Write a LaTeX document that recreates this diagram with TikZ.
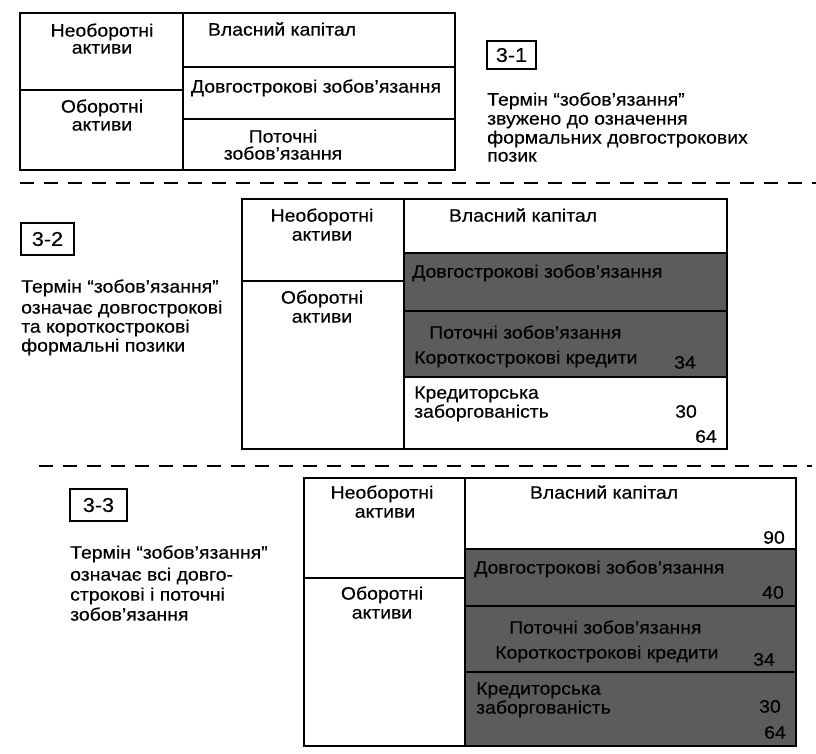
\documentclass[tikz,border=0pt]{standalone}
\usepackage{fontspec}
\setmainfont{Liberation Sans}[FakeStretch=1.08,FakeBold=0.35]
\definecolor{darkfill}{RGB}{92,92,92}
\begin{document}
\begin{tikzpicture}[x=1pt,y=-1pt,
  cell/.style={draw, line width=1.8pt, inner sep=0pt, outer sep=0pt, anchor=north west},
  dark/.style={fill=darkfill},
  txt/.style={inner sep=0pt, yshift=-3pt, font=\fontsize{18}{20}\selectfont},
  lbl/.style={txt, anchor=mid west},
  ctr/.style={txt, anchor=mid},
  para/.style={txt, anchor=mid west},
  tagbox/.style={draw, line width=1.4pt, inner sep=0pt, font=\fontsize{20}{20}\selectfont},
  sepline/.style={line width=2.4pt, dash pattern=on 14pt off 10pt}
]
\useasboundingbox (0,0) rectangle (816,754);

% ---------------- Panel 1 ----------------
\node[cell, minimum width=163, minimum height=77] (p1na) at (20,13) {};
\node[cell, minimum width=163, minimum height=80] (p1oa) at (20,90) {};
\node[cell, minimum width=272, minimum height=54] (p1vk) at (183,13) {};
\node[cell, minimum width=272, minimum height=52] (p1dz) at (183,67) {};
\node[cell, minimum width=272, minimum height=51] (p1pz) at (183,119) {};
\node[ctr] (p1t1) at (102,31) {Необоротні};
\node[ctr] (p1t2) at (102,48) {активи};
\node[ctr] (p1t3) at (102,107) {Оборотні};
\node[ctr] (p1t4) at (102,125) {активи};
\node[ctr] (p1t5) at (282,30) {Власний капітал};
\node[ctr] (p1t6) at (316,87) {Довгострокові зобов’язання};
\node[ctr] (p1t7) at (283,137) {Поточні};
\node[ctr] (p1t8) at (283,154) {зобов’язання};
\node[tagbox, minimum width=49, minimum height=28] (tag1) at (511.5,55) {3-1};
\node[para] (p1p1) at (487,100) {Термін “зобов’язання”};
\node[para] (p1p2) at (487,119) {звужено до означення};
\node[para] (p1p3) at (487,138) {формальних довгострокових};
\node[para] (p1p4) at (487,156) {позик};

\coordinate (s1a) at (20,183);
\coordinate (s1b) at (816,183);
\draw[sepline] (s1a) -- (s1b);

% ---------------- Panel 2 ----------------
\node[cell, minimum width=162, minimum height=82] (p2na) at (242,199) {};
\node[cell, minimum width=162, minimum height=168] (p2oa) at (242,281) {};
\node[cell, minimum width=323, minimum height=54] (p2vk) at (404,199) {};
\node[cell, dark, minimum width=323, minimum height=58] (p2dz) at (404,253) {};
\node[cell, dark, minimum width=323, minimum height=66] (p2pz) at (404,311) {};
\node[cell, minimum width=323, minimum height=72] (p2kz) at (404,377) {};
\node[ctr] (p2t1) at (322,216) {Необоротні};
\node[ctr] (p2t2) at (322,235) {активи};
\node[ctr] (p2t3) at (322,298) {Оборотні};
\node[ctr] (p2t4) at (322,317) {активи};
\node[ctr] (p2t5) at (523,216) {Власний капітал};
\node[lbl] (p2t6) at (412,272) {Довгострокові зобов’язання};
\node[lbl] (p2t7) at (429,333) {Поточні зобов’язання};
\node[lbl] (p2t8) at (414,358) {Короткострокові кредити};
\node[ctr] (p2n1) at (685,363) {34};
\node[lbl] (p2t9) at (414,393) {Кредиторська};
\node[lbl] (p2t10) at (414,412) {заборгованість};
\node[ctr] (p2n2) at (686,412) {30};
\node[ctr] (p2n3) at (706,437) {64};
\node[tagbox, minimum width=53, minimum height=32] (tag2) at (47.5,239) {3-2};
\node[lbl] (p2p1) at (21,287) {Термін “зобов’язання”};
\node[lbl] (p2p2) at (21,308) {означає довгострокові};
\node[lbl] (p2p3) at (21,327) {та короткострокові};
\node[lbl] (p2p4) at (21,346) {формальні позики};

\coordinate (s2a) at (39,466);
\coordinate (s2b) at (812,466);
\draw[sepline] (s2a) -- (s2b);

% ---------------- Panel 3 ----------------
\node[cell, minimum width=161, minimum height=100] (p3na) at (304,478) {};
\node[cell, minimum width=161, minimum height=168] (p3oa) at (304,578) {};
\node[cell, minimum width=331, minimum height=71] (p3vk) at (465,478) {};
\node[cell, dark, minimum width=331, minimum height=57] (p3dz) at (465,549) {};
\node[cell, dark, minimum width=331, minimum height=66] (p3pz) at (465,606) {};
\node[cell, dark, minimum width=331, minimum height=74] (p3kz) at (465,672) {};
\node[ctr] (p3t1) at (382,493) {Необоротні};
\node[ctr] (p3t2) at (385,512) {активи};
\node[ctr] (p3t3) at (382,594) {Оборотні};
\node[ctr] (p3t4) at (382,613) {активи};
\node[ctr] (p3t5) at (604,493) {Власний капітал};
\node[ctr] (p3n0) at (774,538) {90};
\node[lbl] (p3t6) at (474,568) {Довгострокові зобов’язання};
\node[ctr] (p3n1) at (773,593) {40};
\node[lbl] (p3t7) at (509,628) {Поточні зобов’язання};
\node[lbl] (p3t8) at (495,653) {Короткострокові кредити};
\node[ctr] (p3n2) at (764,660) {34};
\node[lbl] (p3t9) at (476,689) {Кредиторська};
\node[lbl] (p3t10) at (476,708) {заборгованість};
\node[ctr] (p3n3) at (770,707) {30};
\node[ctr] (p3n4) at (775,733) {64};
\node[tagbox, minimum width=57, minimum height=32] (tag3) at (98.5,505) {3-3};
\node[lbl] (p3p1) at (70,553) {Термін “зобов’язання”};
\node[lbl] (p3p2) at (70,575) {означає всі довго-};
\node[lbl] (p3p3) at (70,595) {строкові і поточні};
\node[lbl] (p3p4) at (70,615) {зобов’язання};
\end{tikzpicture}
\end{document}
